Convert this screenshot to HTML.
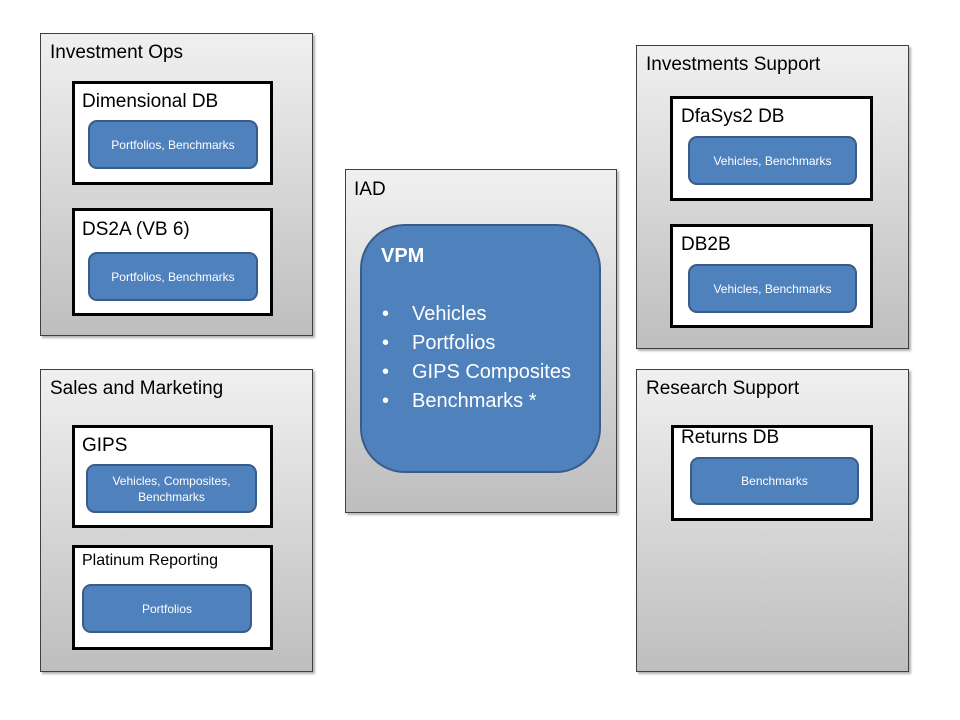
<!DOCTYPE html>
<html><head><style>
body{margin:0;width:960px;height:720px;background:#fff;position:relative;overflow:hidden;font-family:"Liberation Sans",sans-serif;}
.g{position:absolute;box-sizing:border-box;border:1px solid #404040;background:linear-gradient(#f0f0f0,#bebebe);box-shadow:2px 2px 2px rgba(0,0,0,.3);}
.t{position:absolute;font-size:19px;color:#000;white-space:nowrap;line-height:1;}
.w{position:absolute;box-sizing:border-box;border:3px solid #000;background:#fff;}
.p{position:absolute;box-sizing:border-box;border:2px solid #385d8a;background:#4f81bd;border-radius:9px;color:#fff;font-size:12px;display:flex;align-items:center;justify-content:center;text-align:center;line-height:16px;}
</style></head><body>
<div class="g" style="left:40px;top:33px;width:273px;height:303px"></div>
<div class="t" style="left:50px;top:43px">Investment Ops</div>
<div class="w" style="left:72px;top:81px;width:201px;height:104px"></div>
<div class="t" style="left:82px;top:92px">Dimensional DB</div>
<div class="p" style="left:88px;top:120px;width:170px;height:49px">Portfolios, Benchmarks</div>
<div class="w" style="left:72px;top:208px;width:201px;height:108px"></div>
<div class="t" style="left:82px;top:220px">DS2A (VB 6)</div>
<div class="p" style="left:88px;top:252px;width:170px;height:49px">Portfolios, Benchmarks</div>

<div class="g" style="left:40px;top:369px;width:273px;height:303px"></div>
<div class="t" style="left:50px;top:379px">Sales and Marketing</div>
<div class="w" style="left:72px;top:425px;width:201px;height:103px"></div>
<div class="t" style="left:82px;top:436px">GIPS</div>
<div class="p" style="left:86px;top:464px;width:171px;height:49px">Vehicles, Composites,<br>Benchmarks</div>
<div class="w" style="left:72px;top:545px;width:201px;height:105px"></div>
<div class="t" style="left:82px;top:553px;font-size:16px">Platinum Reporting</div>
<div class="p" style="left:82px;top:584px;width:170px;height:49px">Portfolios</div>

<div class="g" style="left:345px;top:169px;width:272px;height:344px"></div>
<div class="t" style="left:354px;top:180px">IAD</div>
<div style="position:absolute;left:360px;top:224px;width:241px;height:249px;box-sizing:border-box;border:2px solid #385d8a;background:#4f81bd;border-radius:45px;color:#fff;font-size:20px;">
<div style="position:absolute;left:19px;top:19px;font-weight:bold;">VPM</div>
<div style="position:absolute;left:20px;top:74px;line-height:29px;">
<div><span style="display:inline-block;width:30px">•</span>Vehicles</div><div><span style="display:inline-block;width:30px">•</span>Portfolios</div><div><span style="display:inline-block;width:30px">•</span>GIPS Composites</div><div><span style="display:inline-block;width:30px">•</span>Benchmarks *</div></div>
</div>

<div class="g" style="left:636px;top:45px;width:273px;height:304px"></div>
<div class="t" style="left:646px;top:55px">Investments Support</div>
<div class="w" style="left:670px;top:96px;width:203px;height:105px"></div>
<div class="t" style="left:681px;top:107px">DfaSys2 DB</div>
<div class="p" style="left:688px;top:136px;width:169px;height:49px">Vehicles, Benchmarks</div>
<div class="w" style="left:670px;top:224px;width:203px;height:104px"></div>
<div class="t" style="left:681px;top:235px">DB2B</div>
<div class="p" style="left:688px;top:264px;width:169px;height:49px">Vehicles, Benchmarks</div>

<div class="g" style="left:636px;top:369px;width:273px;height:303px"></div>
<div class="t" style="left:646px;top:379px">Research Support</div>
<div class="w" style="left:671px;top:425px;width:202px;height:96px"></div>
<div class="t" style="left:681px;top:428px">Returns DB</div>
<div class="p" style="left:690px;top:457px;width:169px;height:48px">Benchmarks</div>
</body></html>
